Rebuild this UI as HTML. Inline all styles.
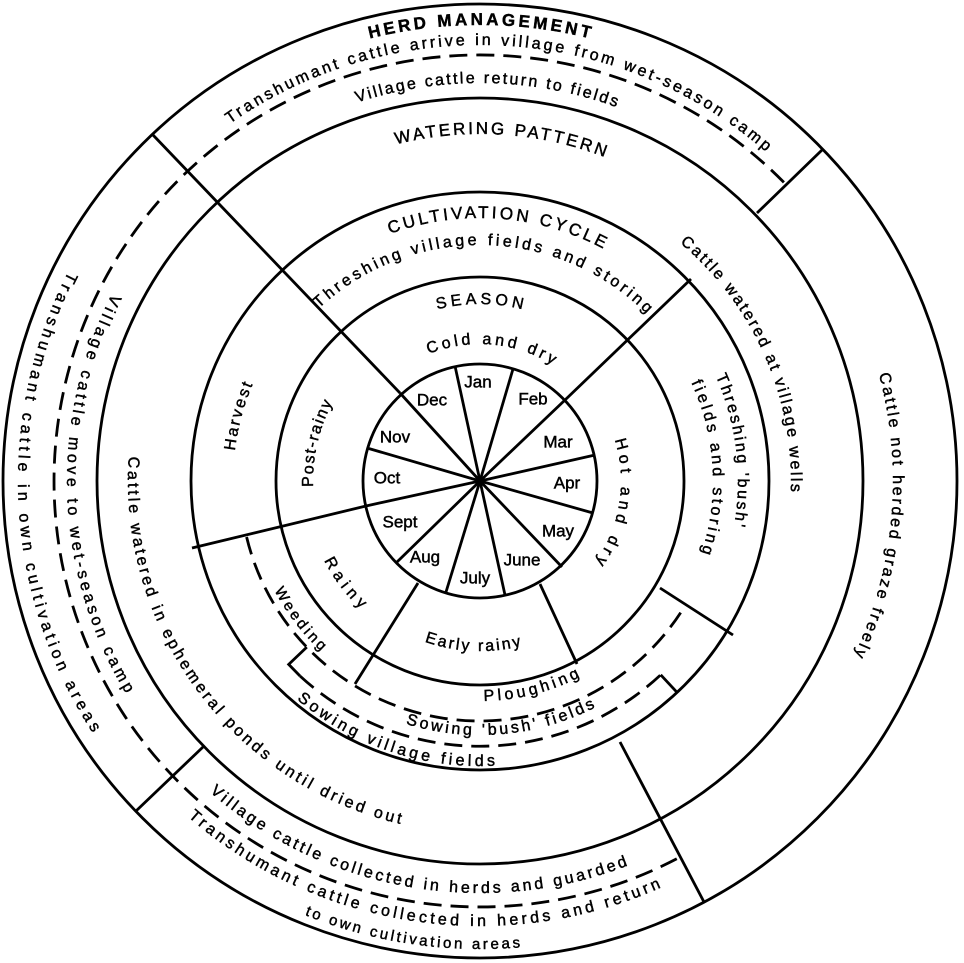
<!DOCTYPE html>
<html><head><meta charset="utf-8"><style>
html,body{margin:0;padding:0;background:#fff;}
svg{display:block;}
text{font-family:"Liberation Sans",sans-serif;fill:#000;stroke:#000;stroke-width:0.45;}
</style></head><body>
<svg width="964" height="963" viewBox="0 0 964 963" xmlns="http://www.w3.org/2000/svg">
<defs>
<path id="p1" d="M369.7 38.5 A456 456 0 0 1 590.3 38.5"/>
<path id="p2" d="M229.9 123.8 A436 436 0 0 1 766.0 151.9"/>
<path id="p3" d="M357.0 102.5 A398 398 0 0 1 616.1 107.0"/>
<path id="p4" d="M396.1 144.3 A347 347 0 0 1 604.4 157.0"/>
<path id="p5" d="M390.0 233.9 A263 263 0 0 1 603.5 248.8"/>
<path id="p6" d="M319.0 308.4 A236 236 0 0 1 646.9 314.1"/>
<path id="p7" d="M437.2 309.3 A177 177 0 0 1 522.8 309.3"/>
<path id="p8" d="M428.7 354.0 A137 137 0 0 1 552.6 364.8"/>
<path id="p9" d="M679.9 242.8 A311 311 0 0 1 790.8 491.9"/>
<path id="p10" d="M715.7 376.1 A258 258 0 0 1 734.1 525.8"/>
<path id="p11" d="M691.2 382.5 A233 233 0 0 1 701.6 553.0"/>
<path id="p12" d="M614.8 439.8 A141 141 0 0 1 595.5 561.9"/>
<path id="p13" d="M878.9 374.1 A413 413 0 0 1 854.3 655.5"/>
<path id="p14" d="M234.8 450.9 A247 247 0 0 1 252.6 384.5"/>
<path id="p15" d="M313.1 486.8 A167 167 0 0 1 332.6 402.6"/>
<path id="p16" d="M112.0 293.5 A413 413 0 0 0 126.0 693.7"/>
<path id="p17" d="M68.4 271.3 A462 462 0 0 0 92.5 732.6"/>
<path id="p18" d="M128.8 456.4 A352 352 0 0 0 400.8 824.0"/>
<path id="p19" d="M324.1 560.5 A175 175 0 0 0 360.7 609.0"/>
<path id="p20" d="M274.3 590.4 A233 233 0 0 0 321.1 651.4"/>
<path id="p21" d="M424.6 641.7 A170 170 0 0 0 521.1 646.0"/>
<path id="p22" d="M483.8 701.0 A220 220 0 0 0 579.9 677.0"/>
<path id="p23" d="M405.7 723.9 A254 254 0 0 0 595.3 707.3"/>
<path id="p24" d="M296.8 699.3 A285 285 0 0 0 494.9 765.6"/>
<path id="p25" d="M209.7 791.9 A412 412 0 0 0 627.7 865.6"/>
<path id="p26" d="M188.0 816.8 A445 445 0 0 0 661.0 887.5"/>
<path id="p27" d="M304.7 914.9 A468 468 0 0 0 520.8 947.2"/>
</defs>

<g fill="none" stroke="#000" stroke-width="2.8">
<circle cx="480" cy="481" r="477"/>
<circle cx="480" cy="481" r="383"/>
<circle cx="480" cy="481" r="289"/>
<circle cx="480" cy="481" r="204"/>
<circle cx="480" cy="481" r="117"/>
<line x1="480" y1="481" x2="455" y2="366"/>
<line x1="480" y1="481" x2="513" y2="369"/>
<line x1="480" y1="481" x2="565" y2="400"/>
<line x1="480" y1="481" x2="595" y2="455"/>
<line x1="480" y1="481" x2="593" y2="513"/>
<line x1="480" y1="481" x2="562" y2="567"/>
<line x1="480" y1="481" x2="505" y2="595"/>
<line x1="480" y1="481" x2="446" y2="592"/>
<line x1="480" y1="481" x2="397" y2="562"/>
<line x1="480" y1="481" x2="366" y2="506"/>
<line x1="480" y1="481" x2="367" y2="448"/>
<line x1="480" y1="481" x2="400" y2="393"/>
<line x1="400" y1="393" x2="153" y2="135"/>
<line x1="565" y1="400" x2="691" y2="279"/>
<line x1="757" y1="213" x2="822" y2="150"/>
<line x1="366" y1="506" x2="192" y2="548"/>
<line x1="418" y1="583" x2="355" y2="684"/>
<line x1="540" y1="584" x2="577" y2="664"/>
<line x1="660" y1="588" x2="733" y2="635"/>
<line x1="620" y1="742" x2="704" y2="902"/>
<line x1="203" y1="747" x2="136" y2="811"/>
<polyline points="306.8,647.1 288.7,664.4 300,676"/>
<line x1="660.7" y1="674.8" x2="677.1" y2="692.4"/>
</g>
<g fill="none" stroke="#000" stroke-width="2.8" stroke-dasharray="18 9">
<path d="M246.6 537.0 A240 240 0 0 0 685.7 604.6"/>
<path d="M300 676 A265 265 0 0 0 660.7 674.8"/>
<path d="M783.9 182.4 A426 426 0 1 0 680.0 857.1"/>
</g>
<circle cx="480" cy="481" r="4.5" fill="#000"/>

<g font-size="16">
<text font-size="17" font-weight="bold"><textPath href="#p1" textLength="222" lengthAdjust="spacing">HERD MANAGEMENT</textPath></text>
<text><textPath href="#p2" textLength="578" lengthAdjust="spacing">Transhumant cattle arrive in village from wet-season camp</textPath></text>
<text><textPath href="#p3" textLength="264" lengthAdjust="spacing">Village cattle return to fields</textPath></text>
<text font-size="17"><textPath href="#p4" textLength="212" lengthAdjust="spacing">WATERING PATTERN</textPath></text>
<text font-size="17"><textPath href="#p5" textLength="220" lengthAdjust="spacing">CULTIVATION CYCLE</textPath></text>
<text><textPath href="#p6" textLength="362" lengthAdjust="spacing">Threshing village fields and storing</textPath></text>
<text><textPath href="#p7" textLength="86" lengthAdjust="spacing">SEASON</textPath></text>
<text><textPath href="#p8" textLength="129" lengthAdjust="spacing">Cold and dry</textPath></text>
<text><textPath href="#p9" textLength="282" lengthAdjust="spacing">Cattle watered at village wells</textPath></text>
<text><textPath href="#p10" textLength="153" lengthAdjust="spacing">Threshing 'bush'</textPath></text>
<text><textPath href="#p11" textLength="175" lengthAdjust="spacing">fields and storing</textPath></text>
<text><textPath href="#p12" textLength="128" lengthAdjust="spacing">Hot and dry</textPath></text>
<text><textPath href="#p13" textLength="288" lengthAdjust="spacing">Cattle not herded graze freely</textPath></text>
<text><textPath href="#p14" textLength="69" lengthAdjust="spacing">Harvest</textPath></text>
<text><textPath href="#p15" textLength="87" lengthAdjust="spacing">Post-rainy</textPath></text>
<text><textPath href="#p16" textLength="418" lengthAdjust="spacing">Village cattle move to wet-season camp</textPath></text>
<text><textPath href="#p17" textLength="484" lengthAdjust="spacing">Transhumant cattle in own cultivation areas</textPath></text>
<text><textPath href="#p18" textLength="497" lengthAdjust="spacing">Cattle watered in ephemeral ponds until dried out</textPath></text>
<text><textPath href="#p19" textLength="61" lengthAdjust="spacing">Rainy</textPath></text>
<text font-size="15"><textPath href="#p20" textLength="77" lengthAdjust="spacing">Weeding</textPath></text>
<text><textPath href="#p21" textLength="98" lengthAdjust="spacing">Early rainy</textPath></text>
<text><textPath href="#p22" textLength="100" lengthAdjust="spacing">Ploughing</textPath></text>
<text><textPath href="#p23" textLength="195" lengthAdjust="spacing">Sowing 'bush' fields</textPath></text>
<text><textPath href="#p24" textLength="214" lengthAdjust="spacing">Sowing village fields</textPath></text>
<text><textPath href="#p25" textLength="446" lengthAdjust="spacing">Village cattle collected in herds and guarded</textPath></text>
<text><textPath href="#p26" textLength="505" lengthAdjust="spacing">Transhumant cattle collected in herds and return</textPath></text>
<text font-size="15"><textPath href="#p27" textLength="220" lengthAdjust="spacing">to own cultivation areas</textPath></text>
</g>

<g font-size="17" text-anchor="middle" dominant-baseline="central">
<text x="478" y="382">Jan</text>
<text x="533" y="399">Feb</text>
<text x="558" y="442">Mar</text>
<text x="567" y="483">Apr</text>
<text x="558" y="531">May</text>
<text x="522" y="560">June</text>
<text x="475" y="578">July</text>
<text x="425" y="557">Aug</text>
<text x="400" y="522">Sept</text>
<text x="387" y="478">Oct</text>
<text x="395" y="437">Nov</text>
<text x="432" y="400">Dec</text>
</g>
</svg>
</body></html>
